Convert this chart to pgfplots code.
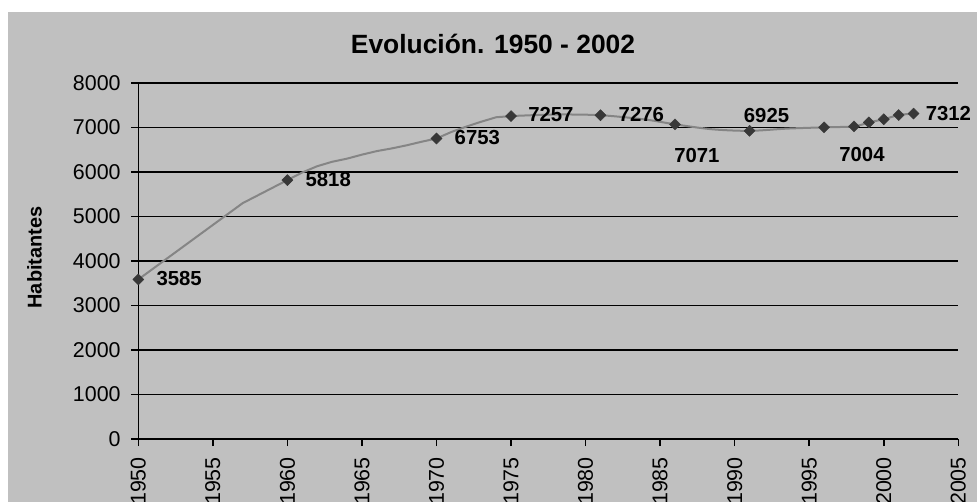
\documentclass[border=0pt]{standalone}
\usepackage{fontspec}
\setmainfont{Liberation Sans}
\usepackage{pgfplots}
\usepackage{pgfplotstable}
\pgfplotsset{compat=1.18}
\definecolor{chartbg}{HTML}{C0C0C0}
\definecolor{linegray}{HTML}{858585}
\definecolor{markgray}{HTML}{383838}

% trend line, first part (straight pieces)
\pgfplotstableread{
x y
1950 3585
1957 5300
1960 5818
1961 5990
1962 6130
1963 6230
1964 6300
1965 6390
1966 6470
1967 6530
1968 6600
1969 6680
1970 6753
1971 6900
1972 7020
1973 7130
1974 7230
1975 7257
}\trendA

% trend line, second part (smoothed)
\pgfplotstableread{
x y
1975 7257
1978 7292
1981 7276
1984 7180
1986 7071
1988.5 6960
1991 6925
1993.5 6975
1996 7004
1998 7025
1999 7115
2000 7185
2001 7280
2002 7312
}\trendB

% labelled census points, label offset in bp
\pgfplotstableread{
x y lab dx dy
1950 3585 3585 41 1
1960 5818 5818 41 1
1970 6753 6753 41 1
1975 7257 7257 40 1.5
1981 7276 7276 41 1
1986 7071 7071 22 -31
1991 6925 6925 17 15
1996 7004 7004 38 -27
2002 7312 7312 35 0
}\census

\pgfplotstableread{
x y
1998 7025
1999 7115
2000 7185
2001 7280
}\extra

\begin{document}
\begin{tikzpicture}
\clip (0,0) rectangle (977bp,502bp);
\fill[white] (0,0) rectangle (977bp,502bp);
\fill[chartbg] (8bp,0) rectangle (977bp,490bp);
\node[font=\bfseries\fontsize{26.5}{30}\selectfont, anchor=base] at (493bp,448.7bp) {Evolución. 1950 - 2002};
\node[font=\bfseries\fontsize{20}{24}\selectfont, rotate=90, anchor=base] at (41.7bp,244.5bp) {Habitantes};
\begin{axis}[
    at={(138.3bp,63bp)}, anchor=south west,
    scale only axis,
    width=820bp, height=356bp,
    xmin=1950, xmax=2005, ymin=0, ymax=8000,
    xtick={1950,1955,...,2005},
    ytick={0,1000,...,8000},
    axis lines*=left,
    axis line style={-, black, line width=1.6bp},
    ymajorgrids,
    major grid style={black, line width=1.6bp},
    tick align=outside,
    major tick length=7bp,
    tick style={black, line width=1.6bp},
    /pgf/number format/1000 sep={},
    /pgf/number format/assume math mode=true,
    ticklabel style={font=\fontsize{21.5}{25}\selectfont},
    xticklabel style={rotate=90, anchor=east, inner sep=0pt, xshift=-11bp},
    yticklabel style={inner sep=0pt, xshift=-10.5bp},
    clip=false,
]
\addplot[linegray, line width=2bp] table[x=x,y=y] {\trendA};
\addplot[linegray, line width=2bp, smooth, tension=0.5] table[x=x,y=y] {\trendB};
\addplot[only marks, mark=square*, mark size=3.9bp,
    mark options={rotate=45, draw=markgray, fill=markgray},
    point meta=explicit symbolic,
    visualization depends on={\thisrow{dx} \as \dx},
    visualization depends on={\thisrow{dy} \as \dy},
    nodes near coords,
    every node near coord/.style={anchor=center, inner sep=0pt, xshift=\dx, yshift=\dy,
        font=\bfseries\fontsize{20.4}{24}\selectfont, text=black},
] table[x=x,y=y,meta=lab] {\census};
\addplot[only marks, mark=square*, mark size=3.9bp,
    mark options={rotate=45, draw=markgray, fill=markgray}] table[x=x,y=y] {\extra};
\end{axis}
\end{tikzpicture}
\end{document}
